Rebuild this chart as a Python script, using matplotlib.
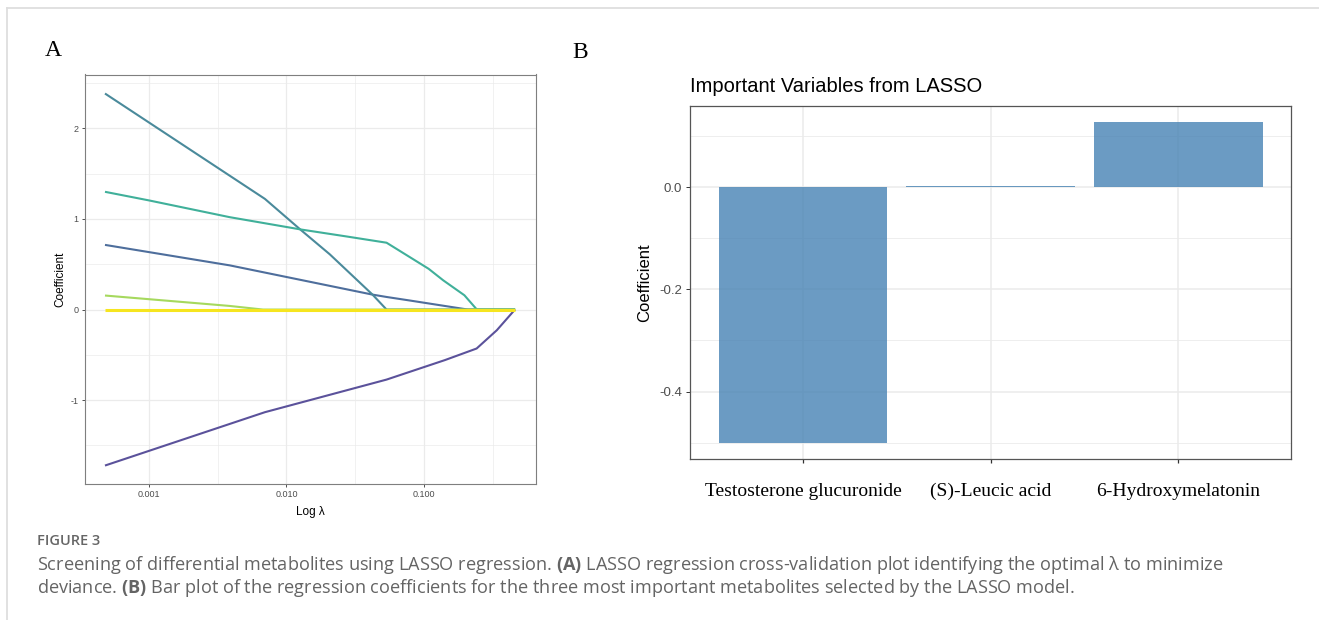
import matplotlib
matplotlib.use("Agg")
import matplotlib.pyplot as plt
from matplotlib.lines import Line2D
import numpy as np

# panel A: coefficient paths (log10 lambda knots)
purple_x = [-3.32, -2.157, -1.272, -0.848, -0.617, -0.47, -0.338]
purple_y = [-1.722, -1.133, -0.773, -0.558, -0.43, -0.228, 0.0]
blue_x = [-3.32, -2.413, -1.374, -1.272, -1.103, -0.68, -0.337]
blue_y = [0.714, 0.488, 0.165, 0.139, 0.10, 0.0, 0.0]
teal_x = [-3.32, -2.157, -1.891, -1.685, -1.374, -1.272, -0.337]
teal_y = [2.385, 1.222, 0.873, 0.61, 0.165, 0.0, 0.0]
green_x = [-3.32, -3.0, -2.413, -1.891, -1.563, -1.272, -1.103, -0.966, -0.86, -0.706, -0.615, -0.337]
green_y = [1.30, 1.205, 1.02, 0.883, 0.807, 0.738, 0.579, 0.45, 0.323, 0.158, 0.0, 0.0]
lgreen_x = [-3.32, -2.413, -2.17, -0.337]
lgreen_y = [0.155, 0.04, 0.0, 0.0]
yellow_x = [-3.32, -0.337]
yellow_y = [0.0, 0.0]

# panel B: coefficients
metabolites = ["Testosterone glucuronide", "(S)-Leucic acid", "6-Hydroxymelatonin"]
coefs = [-0.501, 0.0025, 0.127]

W, H = 1319, 620
plt.rcParams['font.family'] = ['Liberation Sans', 'DejaVu Sans']
plt.rcParams['mathtext.fontset'] = 'custom'
plt.rcParams['mathtext.rm'] = 'Open Sans'
plt.rcParams['mathtext.bf'] = 'Open Sans:bold'

fig = plt.figure(figsize=(W / 100, H / 100), dpi=100)


def box(l, t, r, b):
    return [l / W, 1 - b / H, (r - l) / W, (b - t) / H]


grid_c = '#ebebeb'

# ---------- panel A ----------
ax = fig.add_axes(box(84.5, 74.5, 535.6, 484.3))
paths = [
    (purple_x, purple_y, '#5b529b', 1.5),
    (blue_x, blue_y, '#4e6e9c', 1.5),
    (teal_x, teal_y, '#4a8a9b', 1.5),
    (green_x, green_y, '#40b09a', 1.5),
    (lgreen_x, lgreen_y, '#a6d95e', 1.5),
    (yellow_x, yellow_y, '#f6e51f', 2.2),
]
for xs, ys, c, lw in paths:
    ax.plot(10 ** np.array(xs), ys, color=c, lw=lw, solid_capstyle='butt', zorder=3)

ax.set_xscale('log')
ax.set_xlim(10 ** -3.469, 10 ** -0.188)
ax.set_ylim(-1.929, 2.595)
ax.set_xticks([0.001, 0.01, 0.1])
ax.set_xticklabels(['0.001', '0.010', '0.100'])
ax.set_xticks([10 ** -2.5, 10 ** -1.5, 10 ** -0.5], minor=True)
ax.set_yticks([-1, 0, 1, 2])
ax.set_yticklabels(['-1', '0', '1', '2'])
ax.set_yticks([-1.5, -0.5, 0.5, 1.5, 2.5], minor=True)
ax.tick_params(which='major', length=2.2, width=0.6, color='#333333',
               labelsize=6.5, labelcolor='#4d4d4d', pad=2)
ax.tick_params(which='minor', length=0)
ax.grid(which='major', color=grid_c, lw=0.9, zorder=0)
ax.grid(which='minor', color=grid_c, lw=0.5, zorder=0)
ax.set_axisbelow(True)
for s in ax.spines.values():
    s.set_color('#7f7f7f')
    s.set_linewidth(0.8)
ax.set_xlabel('Log λ', fontsize=8.5)
ax.xaxis.set_label_coords(0.5, -0.0676)
ax.xaxis.label.set_va('center')
ax.set_ylabel('Coefficient', fontsize=8.5)
ax.yaxis.set_label_coords(-0.053, 0.5)
ax.yaxis.label.set_va('center')

# ---------- panel B ----------
bx = fig.add_axes(box(690.4, 106, 1291, 459))
pos = np.arange(len(metabolites))
bx.bar(pos, coefs, width=0.9, color='#4682b4', alpha=0.8, zorder=3)
bx.set_xlim(-0.6, 2.6)
bx.set_ylim(-0.532, 0.159)
bx.set_xticks(pos)
bx.set_xticklabels(metabolites, fontsize=14, family=['Liberation Serif'])
bx.set_yticks([-0.4, -0.2, 0.0])
bx.set_yticklabels(['-0.4', '-0.2', '0.0'])
bx.set_yticks([-0.5, -0.3, -0.1, 0.1], minor=True)
bx.tick_params(axis='y', which='major', length=3, width=0.7, color='#333333',
               labelsize=9.5, labelcolor='#4d4d4d', pad=3)
bx.tick_params(axis='x', which='major', length=3.2, width=0.9, color='#333333',
               labelcolor='black', pad=14)
bx.tick_params(which='minor', length=0)
bx.grid(axis='y', which='major', color=grid_c, lw=1.1, zorder=0)
bx.grid(axis='y', which='minor', color=grid_c, lw=0.6, zorder=0)
bx.grid(axis='x', which='major', color=grid_c, lw=1.1, zorder=0)
bx.set_axisbelow(True)
for s in bx.spines.values():
    s.set_color('#555555')
    s.set_linewidth(0.9)
bx.set_ylabel('Coefficient', fontsize=12)
bx.yaxis.set_label_coords(-0.076, 0.5)
bx.yaxis.label.set_va('center')
bx.text(0.0, 1.0547, 'Important Variables from LASSO', transform=bx.transAxes,
        fontsize=14.5, ha='left', va='center')

# panel letters
fig.text(53.3 / W, 1 - 51 / H, 'A', family=['Liberation Serif'], fontsize=17,
         ha='center', va='center')
fig.text(580.3 / W, 1 - 52.7 / H, 'B', family=['Liberation Serif'], fontsize=17,
         ha='center', va='center')

# caption
cap_c = '#646464'
fig.text(37 / W, 1 - 541 / H, 'FIGURE 3', family=['Open Sans', 'DejaVu Sans'],
         fontsize=10.5, fontweight='semibold', color='#666666', va='center')
fig.text(37 / W, 1 - 565 / H,
         r'Screening of differential metabolites using LASSO regression. $\mathbf{(A)}$ '
         'LASSO regression cross-validation plot identifying the optimal λ to minimize',
         family=['Open Sans', 'DejaVu Sans'], fontsize=13.1, color=cap_c, va='center')
fig.text(37 / W, 1 - 588 / H,
         r'deviance. $\mathbf{(B)}$ Bar plot of the regression coefficients for the three '
         'most important metabolites selected by the LASSO model.',
         family=['Open Sans', 'DejaVu Sans'], fontsize=13.1, color=cap_c, va='center')

# outer frame
fig.add_artist(Line2D([6.7 / W, 1], [1 - 8.3 / H, 1 - 8.3 / H], transform=fig.transFigure,
                      color='#dedede', lw=1.3))
fig.add_artist(Line2D([6.7 / W, 6.7 / W], [0, 1 - 8.3 / H], transform=fig.transFigure,
                      color='#dedede', lw=1.3))

fig.savefig('out.png', dpi=100)
